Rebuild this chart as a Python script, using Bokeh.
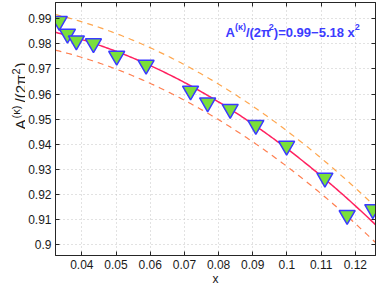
import numpy as np
from bokeh.plotting import figure
from bokeh.models import LinearAxis, FixedTicker, Label, Range1d
from bokeh.layouts import row
from bokeh.embed import file_html
from bokeh.resources import INLINE

# ---- data ----
x_data = [0.0334, 0.0358, 0.0384, 0.0434, 0.0502, 0.0588, 0.0718, 0.0768,
          0.0834, 0.0909, 0.0999, 0.1111, 0.1176, 0.1251]
y_data = [0.9891, 0.9840, 0.9813, 0.9802, 0.9752, 0.9716, 0.9613, 0.9566,
          0.9540, 0.9476, 0.9393, 0.9266, 0.9117, 0.9140]
fit_a = 0.99
fit_b = 5.18
band = 0.0071
x_ticks = [0.04, 0.05, 0.06, 0.07, 0.08, 0.09, 0.1, 0.11, 0.12]
x_tick_labels = ["0.04", "0.05", "0.06", "0.07", "0.08", "0.09", "0.1", "0.11", "0.12"]
y_ticks = [0.9, 0.91, 0.92, 0.93, 0.94, 0.95, 0.96, 0.97, 0.98, 0.99]
y_tick_labels = ["0.9", "0.91", "0.92", "0.93", "0.94", "0.95", "0.96", "0.97", "0.98", "0.99"]
x_lim = (0.0323, 0.1259)
y_lim = (0.8956, 0.9965)

FONT = "Liberation Sans"
AX = "#262626"
TXT = "#1a1a1a"
H = 287
LEFT_W = 25

p = figure(frame_width=320, frame_height=253, x_range=Range1d(*x_lim), y_range=Range1d(*y_lim),
           output_backend="svg", toolbar_location=None,
           min_border_left=53 - LEFT_W, min_border_right=8, min_border_top=2, min_border_bottom=30,
           background_fill_color="white", border_fill_color="white",
           outline_line_color=AX, outline_line_width=1)

p.xaxis.ticker = FixedTicker(ticks=x_ticks)
p.xaxis.major_label_overrides = dict(zip(x_ticks, x_tick_labels))
p.yaxis.ticker = FixedTicker(ticks=y_ticks)
p.yaxis.major_label_overrides = dict(zip(y_ticks, y_tick_labels))
for ax in (p.xaxis, p.yaxis):
    ax.minor_tick_line_color = None
    ax.major_tick_in = 4
    ax.major_tick_out = 0
    ax.major_tick_line_color = AX
    ax.axis_line_color = AX
    ax.major_label_text_font = FONT
    ax.major_label_text_font_size = "12px"
    ax.major_label_text_color = TXT
p.yaxis.major_label_standoff = 4
p.xaxis.major_label_standoff = 4
p.xaxis.axis_label = "x"
p.xaxis.axis_label_text_font = FONT
p.xaxis.axis_label_text_font_size = "12px"
p.xaxis.axis_label_text_font_style = "normal"
p.xaxis.axis_label_text_color = TXT
p.xaxis.axis_label_standoff = 0

p.grid.grid_line_color = "#c4c4c4"
p.grid.grid_line_dash = "1 3"
p.grid.grid_line_width = 1

for loc, ticks in (("right", y_ticks), ("above", x_ticks)):
    ax = LinearAxis(ticker=FixedTicker(ticks=ticks), major_label_text_font_size="0px",
                    major_label_overrides={t: "" for t in ticks},
                    major_tick_in=4, major_tick_out=0, minor_tick_line_color=None,
                    major_label_standoff=0, axis_line_color=AX, major_tick_line_color=AX)
    p.add_layout(ax, loc)

xs = np.linspace(x_lim[0], x_lim[1], 200)
fit = fit_a - fit_b * xs ** 2
p.line(xs, fit + band, line_color="#FFA64D", line_dash="6 5", line_width=1.2)
p.line(xs, fit - band, line_color="#FF7F50", line_dash="6 5", line_width=1.2)
p.line(xs, fit, line_color="#FF2260", line_width=1.5)

p.scatter(x_data, y_data, marker="inverted_triangle", size=16,
          fill_color="#7ADF3A", line_color="#3A3AFF", line_width=1.5)

# ---- annotation with superscripts (pieces) ----
W_BOLD = {"A": .722, "(": .333, ")": .333, "κ": .556, "/": .278, "2": .556, "π": .6,
          "=": .584, "0": .556, ".": .278, "9": .556, "−": .584, "5": .556, "1": .556,
          "8": .556, " ": .278, "x": .556}


def mk_label(txt, x, y, size, bold, color, angle=0.0):
    return Label(x=x, y=y, x_units="screen", y_units="screen", text=txt, angle=angle,
                 text_font=FONT, text_font_size=f"{size}px",
                 text_font_style="bold" if bold else "normal", text_color=color,
                 text_align="left", text_baseline="alphabetic")


ann_pieces = [("A", False), ("(κ)", True), ("/(2π", False), ("2", True),
              (")=0.99−5.18 x", False), ("2", True)]
pos = 0.0
for txt, sup in ann_pieces:
    size = 9 if sup else 13
    p.add_layout(mk_label(txt, 170 + pos, 223.3 + (5 if sup else 0), size, True, "#3C3CFF"))
    pos += sum(W_BOLD.get(c, .556) for c in txt) * size

# ---- rotated y-axis label in a narrow side figure ----
side = figure(width=LEFT_W, height=H, x_range=Range1d(0, LEFT_W), y_range=Range1d(0, H),
              output_backend="svg", toolbar_location=None, min_border=0,
              x_axis_location=None, y_axis_location=None, outline_line_color=None,
              background_fill_color="white", border_fill_color="white")
side.grid.visible = False
ylab_pieces = [("A", False, 0), ("(κ)", True, 11), ("/(2π", False, 27), ("2", True, 55), (")", False, 62)]
for txt, sup, off in ylab_pieces:
    side.add_layout(mk_label(txt, 20 - (5 if sup else 0), (H - 162) + off,
                             11 if sup else 15, False, TXT, angle=np.pi / 2))

layout = row(side, p)
open("out.html", "w").write(file_html(layout, INLINE))
